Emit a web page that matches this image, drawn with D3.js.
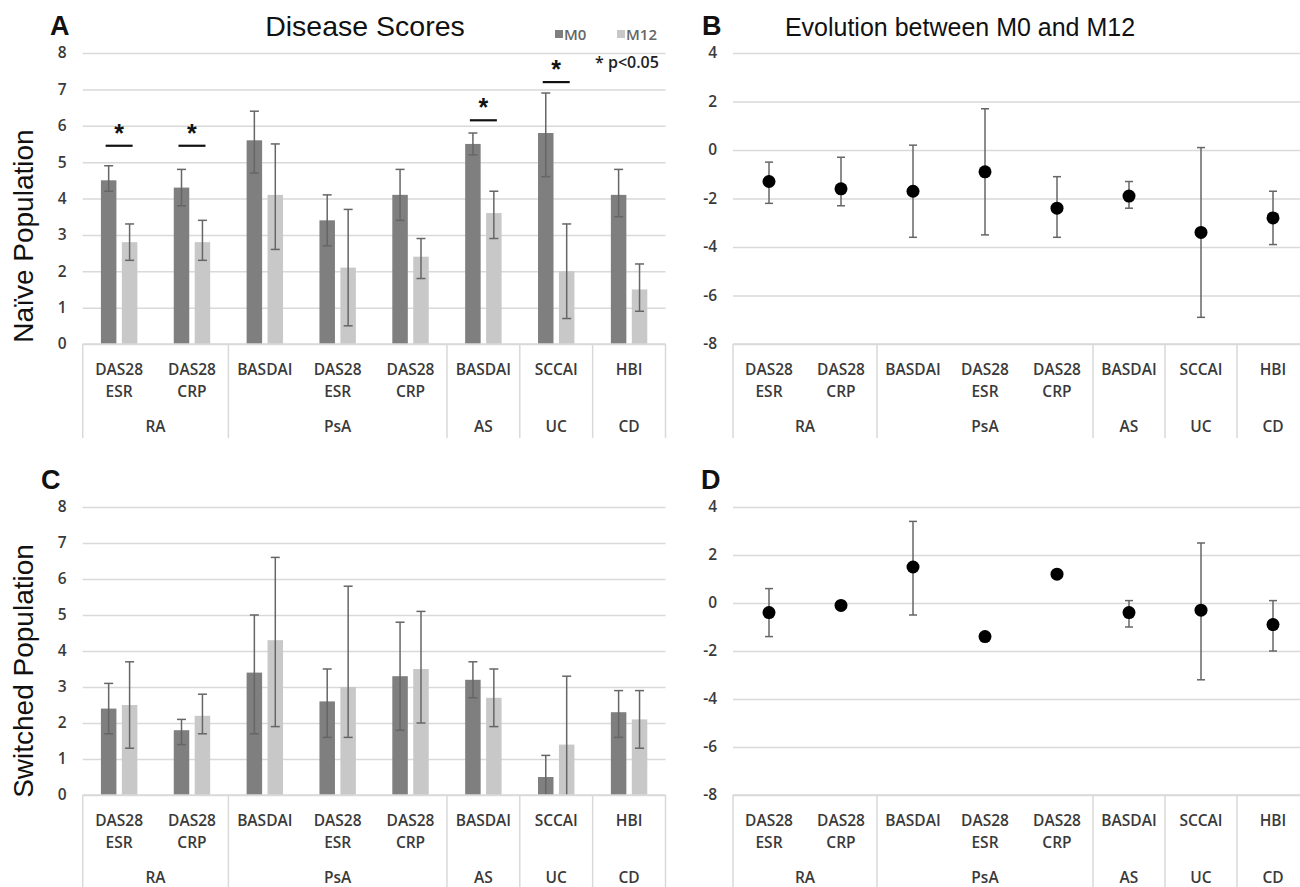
<!DOCTYPE html>
<html>
<head>
<meta charset="utf-8">
<script src="https://cdn.jsdelivr.net/npm/d3@7"></script>
<style>
	body { margin: 0; background: #fff; }
	svg { display: block; }
</style>
</head>
<body>
<svg width="1300" height="887"></svg>
<script>

// kolommen van de categorie-as (regels per label) en de groepen eronder
const catLines = [ [ 'DAS28', 'ESR' ], [ 'DAS28', 'CRP' ], [ 'BASDAI' ], [ 'DAS28', 'ESR' ], [ 'DAS28', 'CRP' ], [ 'BASDAI' ], [ 'SCCAI' ], [ 'HBI' ] ]
const groupNames = [ 'RA', 'PsA', 'AS', 'UC', 'CD' ]
const groupSizes = [ 2, 3, 1, 1, 1 ]
const series = [ 'M0', 'M12' ]

const scoreTicks = [ 0, 1, 2, 3, 4, 5, 6, 7, 8 ]
const evolutionTicks = [ -8, -6, -4, -2, 0, 2, 4 ]

// A: naive populatie
const naiveM0 = [ 4.5, 4.3, 5.6, 3.4, 4.1, 5.5, 5.8, 4.1 ]
const naiveM0Low = [ 4.2, 3.8, 4.7, 2.7, 3.4, 5.2, 4.6, 3.5 ]
const naiveM0High = [ 4.9, 4.8, 6.4, 4.1, 4.8, 5.8, 6.9, 4.8 ]
const naiveM12 = [ 2.8, 2.8, 4.1, 2.1, 2.4, 3.6, 2.0, 1.5 ]
const naiveM12Low = [ 2.3, 2.3, 2.6, 0.5, 1.8, 2.9, 0.7, 0.9 ]
const naiveM12High = [ 3.3, 3.4, 5.5, 3.7, 2.9, 4.2, 3.3, 2.2 ]
const naiveSignificant = [ 5.45, 5.45, null, null, null, 6.15, 7.2, null ]

// B: verschil M12 - M0 naive
const naiveDelta = [ -1.3, -1.6, -1.7, -0.9, -2.4, -1.9, -3.4, -2.8 ]
const naiveDeltaLow = [ -2.2, -2.3, -3.6, -3.5, -3.6, -2.4, -6.9, -3.9 ]
const naiveDeltaHigh = [ -0.5, -0.3, 0.2, 1.7, -1.1, -1.3, 0.1, -1.7 ]

// C: switched populatie
const switchedM0 = [ 2.4, 1.8, 3.4, 2.6, 3.3, 3.2, 0.5, 2.3 ]
const switchedM0Low = [ 1.7, 1.4, 1.7, 1.6, 1.8, 2.7, -0.1, 1.6 ]
const switchedM0High = [ 3.1, 2.1, 5.0, 3.5, 4.8, 3.7, 1.1, 2.9 ]
const switchedM12 = [ 2.5, 2.2, 4.3, 3.0, 3.5, 2.7, 1.4, 2.1 ]
const switchedM12Low = [ 1.3, 1.7, 1.9, 1.6, 2.0, 1.9, -0.5, 1.3 ]
const switchedM12High = [ 3.7, 2.8, 6.6, 5.8, 5.1, 3.5, 3.3, 2.9 ]

// D: verschil switched (geen foutbalk = null)
const switchedDelta = [ -0.4, -0.1, 1.5, -1.4, 1.2, -0.4, -0.3, -0.9 ]
const switchedDeltaLow = [ -1.4, null, -0.5, null, null, -1.0, -3.2, -2.0 ]
const switchedDeltaHigh = [ 0.6, null, 3.4, null, null, 0.1, 2.5, 0.1 ]

const svg = d3.select( 'svg' ),
	grid = '#d9d9d9',
	labelColor = '#3a3a3a',
	errColor = '#666',
	barColor = d3.scaleOrdinal().domain( series ).range( [ '#7f7f7f', '#c8c8c8' ] ),
	catFont = '"Open Sans", Lato, sans-serif',
	titleFont = '"Liberation Sans", Arial, sans-serif'

const leftX = [ 82.7, 665.5 ],
	rightX = [ 733, 1309 ],
	topRow = [ 344, 53 ],
	bottomRow = [ 795, 507 ]

function bandScale( range ) {

	return d3.scaleBand().domain( d3.range( catLines.length ) ).range( range ).padding( 0 )

}

function valueAxis( g, y, ticks, x ) {

	g.append( 'g' )
		.attr( 'transform', `translate(${ x.range()[ 0 ] },0)` )
		.call( d3.axisLeft( y ).tickValues( ticks ).tickFormat( d => String( d ) )
			.tickSize( -( x.range()[ 1 ] - x.range()[ 0 ] ) ).tickPadding( 16 ) )
		.call( a => a.select( '.domain' ).remove() )
		.call( a => a.selectAll( '.tick line' ).attr( 'stroke', grid ).attr( 'stroke-width', 1.5 ) )
		.call( a => a.selectAll( '.tick text' )
			.attr( 'fill', labelColor )
			.attr( 'font-family', catFont )
			.attr( 'font-weight', 600 )
			.attr( 'font-size', 15.5 ) )

}

function categoryAxis( g, x, base ) {

	const x0 = x.range()[ 0 ],
		step = x.step(),
		bounds = [ 0 ]

	groupSizes.forEach( n => bounds.push( bounds[ bounds.length - 1 ] + n ) )

	g.append( 'line' )
		.attr( 'x1', x0 ).attr( 'x2', x.range()[ 1 ] )
		.attr( 'y1', base ).attr( 'y2', base )
		.attr( 'stroke', grid ).attr( 'stroke-width', 1.5 )

	g.selectAll( '.sep' )
		.data( bounds )
		.join( 'line' )
		.attr( 'x1', i => x0 + i * step ).attr( 'x2', i => x0 + i * step )
		.attr( 'y1', base ).attr( 'y2', base + 94 )
		.attr( 'stroke', grid ).attr( 'stroke-width', 1.5 )

	g.selectAll( '.cat' )
		.data( catLines )
		.join( 'text' )
		.attr( 'text-anchor', 'middle' )
		.attr( 'font-family', catFont )
		.attr( 'font-weight', 600 )
		.attr( 'font-size', 15.5 )
		.attr( 'fill', labelColor )
		.each( function ( lines, i ) {
			d3.select( this ).selectAll( 'tspan' )
				.data( lines )
				.join( 'tspan' )
				.attr( 'x', x( i ) + x.bandwidth() / 2 )
				.attr( 'y', ( d, j ) => base + 31 + j * 21.5 )
				.text( d => d )
		} )

	g.selectAll( '.grp' )
		.data( groupNames )
		.join( 'text' )
		.attr( 'x', ( d, i ) => x0 + ( bounds[ i ] + bounds[ i + 1 ] ) / 2 * step )
		.attr( 'y', base + 88 )
		.attr( 'text-anchor', 'middle' )
		.attr( 'font-family', catFont )
		.attr( 'font-weight', 600 )
		.attr( 'font-size', 15.5 )
		.attr( 'fill', labelColor )
		.text( d => d )

}

function errorBar( g, cx, y, low, high, clampLow, cap ) {

	const lo = clampLow !== undefined ? Math.max( clampLow, low ) : low

	g.append( 'line' )
		.attr( 'x1', cx ).attr( 'x2', cx )
		.attr( 'y1', y( lo ) ).attr( 'y2', y( high ) )
		.attr( 'stroke', errColor ).attr( 'stroke-width', 1.5 )

	g.append( 'line' )
		.attr( 'x1', cx - cap ).attr( 'x2', cx + cap )
		.attr( 'y1', y( high ) ).attr( 'y2', y( high ) )
		.attr( 'stroke', errColor ).attr( 'stroke-width', 1.5 )

	if ( lo === low ) {
		g.append( 'line' )
			.attr( 'x1', cx - cap ).attr( 'x2', cx + cap )
			.attr( 'y1', y( low ) ).attr( 'y2', y( low ) )
			.attr( 'stroke', errColor ).attr( 'stroke-width', 1.5 )
	}

}

function barPanel( xRange, yRange, table, significant ) {

	const g = svg.append( 'g' ),
		x = bandScale( xRange ),
		y = d3.scaleLinear().domain( [ 0, 8 ] ).range( yRange ),
		x1 = d3.scaleBand().domain( series ).range( [ 0, x.bandwidth() ] ).paddingInner( 0.26 ).paddingOuter( 0.87 )

	valueAxis( g, y, scoreTicks, x )

	const rows = []
	catLines.forEach( ( c, i ) => series.forEach( s => rows.push( {
		i, s,
		mean: table[ s ].mean[ i ],
		low: table[ s ].low[ i ],
		high: table[ s ].high[ i ]
	} ) ) )

	g.append( 'g' ).selectAll( 'rect' )
		.data( rows )
		.join( 'rect' )
		.attr( 'x', d => x( d.i ) + x1( d.s ) )
		.attr( 'y', d => y( d.mean ) )
		.attr( 'width', x1.bandwidth() )
		.attr( 'height', d => y( 0 ) - y( d.mean ) )
		.attr( 'fill', d => barColor( d.s ) )

	const eb = g.append( 'g' )
	rows.forEach( d => errorBar( eb, x( d.i ) + x1( d.s ) + x1.bandwidth() / 2, y, d.low, d.high, 0, 4.5 ) )

	categoryAxis( g.append( 'g' ), x, y( 0 ) )

	if ( significant ) {

		const sig = significant.map( ( v, i ) => ( { i, v } ) ).filter( d => d.v !== null )

		g.selectAll( '.sigline' )
			.data( sig )
			.join( 'line' )
			.attr( 'x1', d => x( d.i ) + x.bandwidth() / 2 - 13.5 )
			.attr( 'x2', d => x( d.i ) + x.bandwidth() / 2 + 13.5 )
			.attr( 'y1', d => y( d.v ) ).attr( 'y2', d => y( d.v ) )
			.attr( 'stroke', '#111' ).attr( 'stroke-width', 2.2 )

		g.selectAll( '.star' )
			.data( sig )
			.join( 'text' )
			.attr( 'x', d => x( d.i ) + x.bandwidth() / 2 )
			.attr( 'y', d => y( d.v ) - 4 )
			.attr( 'text-anchor', 'middle' )
			.attr( 'font-family', titleFont )
			.attr( 'font-weight', 'bold' )
			.attr( 'font-size', 25 )
			.attr( 'fill', '#111' )
			.text( '*' )

	}

	return g

}

function dotPanel( xRange, yRange, mean, low, high ) {

	const g = svg.append( 'g' ),
		x = bandScale( xRange ),
		y = d3.scaleLinear().domain( [ -8, 4 ] ).range( yRange )

	valueAxis( g, y, evolutionTicks, x )
	categoryAxis( g.append( 'g' ), x, y( -8 ) )

	const eb = g.append( 'g' )
	mean.forEach( ( m, i ) => {
		if ( low[ i ] === null ) return
		errorBar( eb, x( i ) + x.bandwidth() / 2, y, low[ i ], high[ i ], undefined, 4 )
	} )

	g.append( 'g' ).selectAll( 'circle' )
		.data( mean )
		.join( 'circle' )
		.attr( 'cx', ( d, i ) => x( i ) + x.bandwidth() / 2 )
		.attr( 'cy', d => y( d ) )
		.attr( 'r', 6.5 )
		.attr( 'fill', '#000' )

	return g

}

function table( m0, m0Low, m0High, m12, m12Low, m12High ) {

	return {
		M0: { mean: m0, low: m0Low, high: m0High },
		M12: { mean: m12, low: m12Low, high: m12High }
	}

}

barPanel( leftX, topRow, table( naiveM0, naiveM0Low, naiveM0High, naiveM12, naiveM12Low, naiveM12High ), naiveSignificant )
dotPanel( rightX, topRow, naiveDelta, naiveDeltaLow, naiveDeltaHigh )
barPanel( leftX, bottomRow, table( switchedM0, switchedM0Low, switchedM0High, switchedM12, switchedM12Low, switchedM12High ), null )
dotPanel( rightX, bottomRow, switchedDelta, switchedDeltaLow, switchedDeltaHigh )

// titels, paneelletters en as-titels
const texts = [
	{ t: 'A', x: 50, y: 35, size: 27, bold: true },
	{ t: 'B', x: 702, y: 35, size: 27, bold: true },
	{ t: 'C', x: 41, y: 489, size: 27, bold: true },
	{ t: 'D', x: 701, y: 489, size: 27, bold: true },
	{ t: 'Disease Scores', x: 365, y: 36, size: 28.5, anchor: 'middle' },
	{ t: 'Evolution between M0 and M12', x: 960, y: 36, size: 25, anchor: 'middle' }
]

svg.append( 'g' ).selectAll( 'text' )
	.data( texts )
	.join( 'text' )
	.attr( 'x', d => d.x ).attr( 'y', d => d.y )
	.attr( 'text-anchor', d => d.anchor || 'start' )
	.attr( 'font-family', titleFont )
	.attr( 'font-size', d => d.size )
	.attr( 'font-weight', d => d.bold ? 'bold' : 'normal' )
	.attr( 'fill', '#111' )
	.text( d => d.t )

svg.append( 'g' ).selectAll( 'text' )
	.data( [ { t: 'Naïve Population', cy: 236 }, { t: 'Switched Population', cy: 671 } ] )
	.join( 'text' )
	.attr( 'transform', d => `translate(33,${ d.cy }) rotate(-90)` )
	.attr( 'text-anchor', 'middle' )
	.attr( 'font-family', titleFont )
	.attr( 'font-size', 28 )
	.attr( 'fill', '#111' )
	.text( d => d.t )

// legenda
const legend = svg.append( 'g' ).attr( 'transform', 'translate(555,30)' )
const legendItem = legend.selectAll( 'g' )
	.data( series )
	.join( 'g' )
	.attr( 'transform', ( d, i ) => `translate(${ i * 62 },0)` )

legendItem.append( 'rect' )
	.attr( 'width', 8 ).attr( 'height', 8 )
	.attr( 'fill', d => barColor( d ) )

legendItem.append( 'text' )
	.attr( 'x', 9 ).attr( 'y', 9.5 )
	.attr( 'font-family', catFont )
	.attr( 'font-weight', 600 )
	.attr( 'font-size', 15 )
	.attr( 'fill', '#666' )
	.text( d => d )

svg.append( 'text' )
	.attr( 'x', 595 ).attr( 'y', 68 )
	.attr( 'font-family', catFont )
	.attr( 'font-weight', 600 )
	.attr( 'font-size', 16 )
	.attr( 'fill', '#222' )
	.text( '* p<0.05' )

</script>
</body>
</html>
